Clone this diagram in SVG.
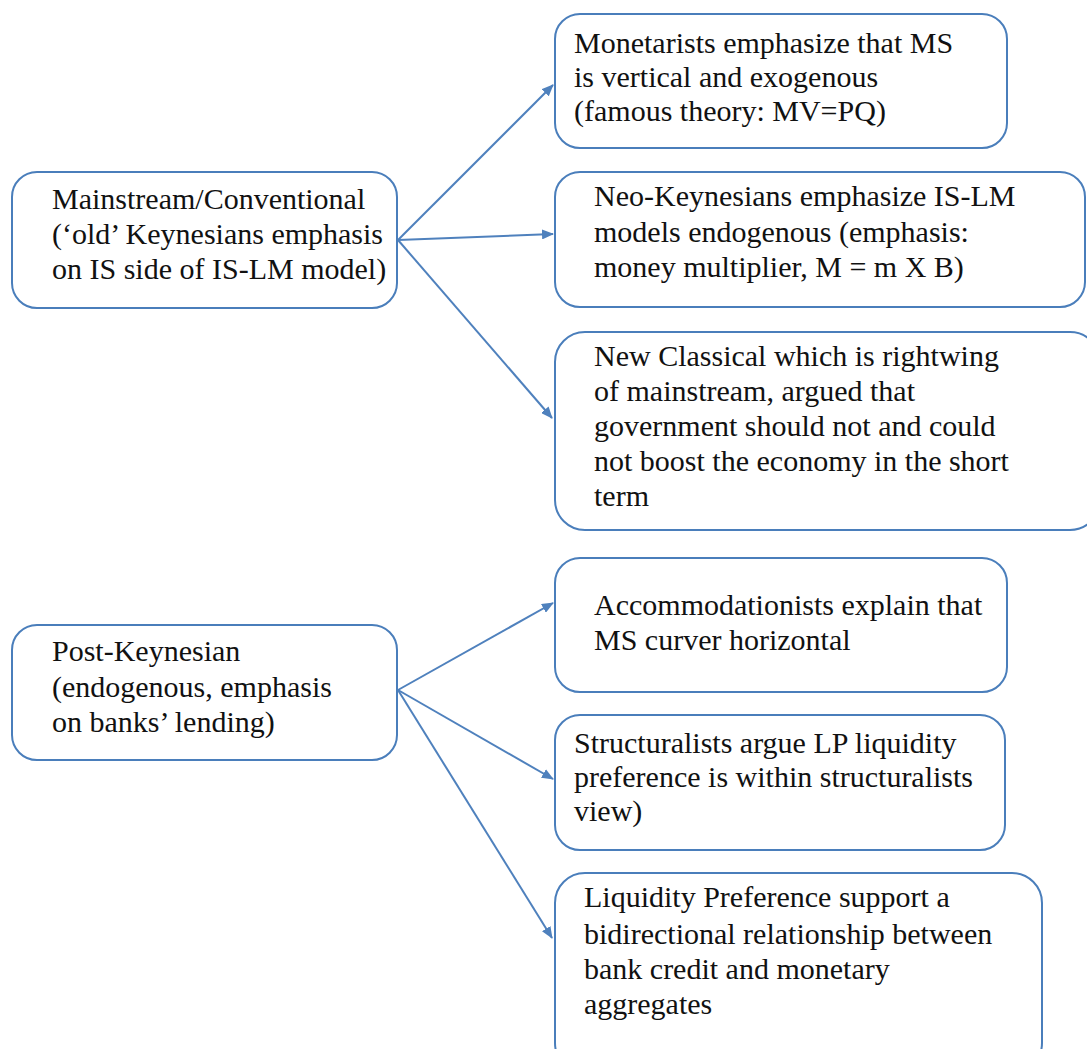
<svg xmlns="http://www.w3.org/2000/svg" width="1087" height="1049" viewBox="0 0 1087 1049">
<defs>
<style>
.box{fill:#fff;stroke:#4a7ebb;stroke-width:2}
.t{font-family:"Liberation Serif","Times New Roman",serif;font-size:30px;fill:#111}
.c{stroke:#4f81bd;stroke-width:2;fill:none;marker-end:url(#ah)}
</style>
<marker id="ah" markerWidth="12" markerHeight="10" refX="11" refY="5" orient="auto" markerUnits="userSpaceOnUse">
<path d="M0,0 L12,5 L0,10 z" fill="#4f81bd"/>
</marker>
</defs>
<rect width="1087" height="1049" fill="#fff"/>
<g id="connectors">
<line class="c" x1="398" y1="240" x2="553" y2="85"/>
<line class="c" x1="398" y1="240" x2="553" y2="234"/>
<line class="c" x1="398" y1="240" x2="552" y2="418"/>
<line class="c" x1="398" y1="690" x2="553" y2="603"/>
<line class="c" x1="398" y1="690" x2="553" y2="779"/>
<line class="c" x1="398" y1="690" x2="552" y2="938"/>
</g>
<g id="n-mainstream">
<rect class="box" x="12" y="172" width="385" height="136" rx="25"/>
<text class="t" x="52" y="209">Mainstream/Conventional</text>
<text class="t" x="52" y="244">(‘old’ Keynesians emphasis</text>
<text class="t" x="52" y="279">on IS side of IS-LM model)</text>
</g>
<g id="n-monetarists">
<rect class="box" x="555" y="14" width="452" height="134" rx="25"/>
<text class="t" x="574" y="53">Monetarists emphasize that MS</text>
<text class="t" x="574" y="87">is vertical and exogenous</text>
<text class="t" x="574" y="121">(famous theory: MV=PQ)</text>
</g>
<g id="n-neokeynesians">
<rect class="box" x="555" y="172" width="530" height="135" rx="25"/>
<text class="t" x="594" y="206">Neo-Keynesians emphasize IS-LM</text>
<text class="t" x="594" y="242">models endogenous (emphasis:</text>
<text class="t" x="594" y="277">money multiplier, M = m X B)</text>
</g>
<g id="n-newclassical">
<rect class="box" x="555" y="332" width="545" height="198" rx="30"/>
<text class="t" x="594" y="366">New Classical which is rightwing</text>
<text class="t" x="594" y="401">of mainstream, argued that</text>
<text class="t" x="594" y="436">government should not and could</text>
<text class="t" x="594" y="471">not boost the economy in the short</text>
<text class="t" x="594" y="506">term</text>
</g>
<g id="n-postkeynesian">
<rect class="box" x="12" y="625" width="385" height="135" rx="25"/>
<text class="t" x="52" y="661">Post-Keynesian</text>
<text class="t" x="52" y="697">(endogenous, emphasis</text>
<text class="t" x="52" y="732">on banks’ lending)</text>
</g>
<g id="n-accommodationists">
<rect class="box" x="555" y="558" width="452" height="134" rx="25"/>
<text class="t" x="594" y="615">Accommodationists explain that</text>
<text class="t" x="594" y="650">MS curver horizontal</text>
</g>
<g id="n-structuralists">
<rect class="box" x="555" y="715" width="450" height="135" rx="25"/>
<text class="t" x="574" y="753">Structuralists argue LP liquidity</text>
<text class="t" x="574" y="787">preference is within structuralists</text>
<text class="t" x="574" y="821">view)</text>
</g>
<g id="n-liquidity">
<rect class="box" x="555" y="873" width="487" height="200" rx="30"/>
<text class="t" x="584" y="907">Liquidity Preference support a</text>
<text class="t" x="584" y="944">bidirectional relationship between</text>
<text class="t" x="584" y="979">bank credit and monetary</text>
<text class="t" x="584" y="1014">aggregates</text>
</g>
</svg>
